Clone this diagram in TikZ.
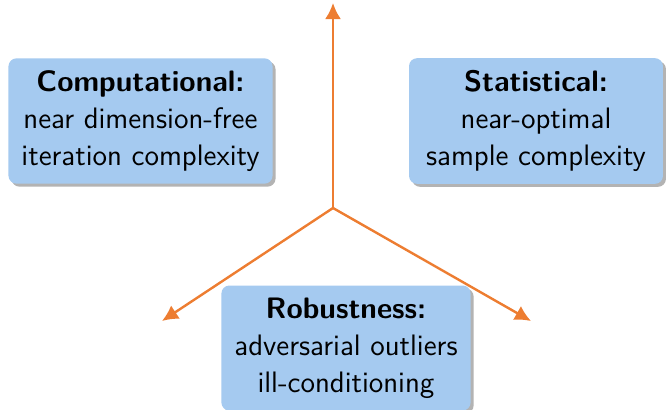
\documentclass[tikz,border=0pt]{standalone}
\usetikzlibrary{arrows.meta,shadows}
\renewcommand{\familydefault}{\sfdefault}
\definecolor{boxblue}{RGB}{165,202,240}
\definecolor{axisorange}{RGB}{237,125,49}

\begin{document}
\begin{tikzpicture}[x=1pt,y=1pt,
      goal/.style={rectangle,rounded corners=4pt,fill=boxblue,align=center,
        font=\fontsize{14.8}{18.6}\selectfont,inner xsep=6.5pt,inner ysep=6pt,
        drop shadow={shadow xshift=1.5pt,shadow yshift=-1.5pt,fill=black!50,opacity=0.6}},
      axis/.style={-{Latex[length=8pt,width=8pt]},axisorange,line width=1.2pt}
    ]
      \useasboundingbox (0,0) rectangle (336,204.5);
      % the three goals
      \node[goal] (comp) at (70.25,144) {\textbf{Computational:}\\near dimension-free\\iteration complexity};
      \node[goal,inner xsep=8.5pt] (stat) at (268,144) {\textbf{Statistical:}\\near-optimal\\sample complexity};
      \node[goal] (rob) at (173,30.5) {\textbf{Robustness:}\\adversarial outliers\\ill-conditioning};
      % axes out of the hub
      \coordinate (hub) at (166.5,100.5);
      \coordinate (up) at (166.5,203);
      \coordinate (left) at (81,44);
      \coordinate (right) at (265.5,44);
      \draw[axis] (hub) -- (up);
      \draw[axis] (hub) -- (left);
      \draw[axis] (hub) -- (right);
    \end{tikzpicture}
\end{document}
